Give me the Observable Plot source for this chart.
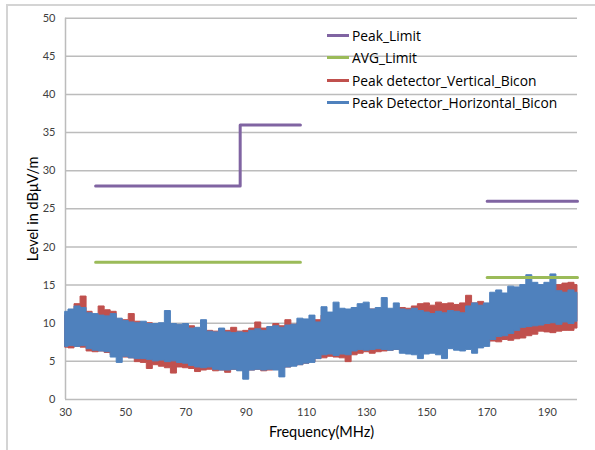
<!DOCTYPE html>
<html>
<head>
<meta charset="utf-8">
<script src="https://cdn.jsdelivr.net/npm/d3@7"></script>
<script src="https://cdn.jsdelivr.net/npm/@observablehq/plot@0.6"></script>
<style>
  html, body { margin: 0; padding: 0; background: #fff; }
  #wrap { position: relative; width: 595px; height: 450px; overflow: hidden; font-family: Lato, "Open Sans", sans-serif; }
  #frame { position: absolute; left: 6px; top: 4px; width: 700px; height: 600px; border-left: 2px solid #d4d4d4; border-top: 2px solid #d4d4d4; }
  #chart { position: absolute; left: 0; top: 0; }
  #legend { position: absolute; left: 327px; top: 24px; font-size: 13.8px; font-family: "Open Sans", sans-serif; color: #000; }
  .item { display: flex; align-items: center; height: 22.5px; white-space: nowrap; }
  .sw { width: 22px; height: 3px; margin-right: 3px; }
</style>
</head>
<body>
<div id="wrap">
  <div id="frame"></div>
  <div id="chart"></div>
  <div id="legend"></div>
</div>
<script>
// ---- data ----
const seriesNames = ["Peak_Limit", "AVG_Limit", "Peak detector_Vertical_Bicon", "Peak Detector_Horizontal_Bicon"];
const seriesColors = ["#8064a2", "#9bbb59", "#c0504d", "#4f81bd"];

// limit lines (null breaks the line)
const peakLimitFreq  = [40, 88, 88, 108, null, 170, 200];
const peakLimitLevel = [28, 28, 36, 36, null, 26, 26];
const avgLimitFreq   = [40, 108, null, 170, 200];
const avgLimitLevel  = [18, 18, null, 16, 16];

// measured noise envelopes, every 2 MHz from 30 to 200 MHz
const freq = [30,32,34,36,38,40,42,44,46,48,50,52,54,56,58,60,62,64,66,68,70,72,74,76,78,80,82,84,86,88,90,92,94,96,98,100,102,104,106,108,110,112,114,116,118,120,122,124,126,128,130,132,134,136,138,140,142,144,146,148,150,152,154,156,158,160,162,164,166,168,170,172,174,176,178,180,182,184,186,188,190,192,194,196,198,200];

const vertHigh = [11.0,11.5,12.5,13.5,11.5,11.0,12.2,11.7,11.5,10.5,10.4,11.2,10.2,9.8,10.0,9.6,9.8,9.9,9.8,9.7,9.5,9.6,9.2,9.0,9.0,8.9,9.2,9.0,9.4,8.9,9.0,9.3,10.1,9.3,9.4,9.9,9.6,10.4,9.8,10.0,10.3,10.0,10.4,11.0,11.3,11.4,11.5,11.6,11.8,11.9,11.9,11.8,11.8,11.9,11.7,11.8,12.0,11.9,12.2,12.5,12.6,12.3,12.7,12.5,12.6,12.4,12.6,13.6,12.6,12.8,12.5,12.6,13.0,13.2,13.5,13.7,14.0,14.2,14.5,14.6,14.8,14.9,15.0,15.2,15.3,15.0];
const vertLow  = [6.8,6.7,6.9,6.8,6.3,6.2,6.3,6.1,5.8,5.7,5.5,5.4,4.9,4.8,4.0,4.5,4.3,4.1,3.4,4.2,4.1,4.0,3.6,3.8,3.9,3.7,3.8,3.5,3.9,3.8,3.7,3.8,3.9,3.7,3.8,4.0,4.1,4.2,4.4,4.5,4.7,4.9,5.3,5.4,5.6,5.5,5.4,4.9,5.8,6.0,6.2,6.0,6.2,6.3,6.4,6.5,6.4,6.6,6.5,6.6,6.7,6.8,6.6,6.9,6.8,7.0,7.2,7.1,7.3,7.5,7.4,7.6,7.5,7.8,7.7,7.9,8.0,8.3,8.5,8.9,8.8,8.7,8.9,9.0,9.0,9.3];
const horizHigh = [11.5,11.8,12.2,12.0,11.3,11.2,11.0,10.9,11.2,10.6,10.3,10.1,10.0,10.2,9.9,9.9,10.0,11.6,9.9,9.8,9.9,9.3,9.4,10.4,8.9,8.8,9.3,8.8,8.7,8.8,8.7,9.0,9.2,9.0,9.5,9.6,9.4,9.7,9.8,10.6,10.5,11.0,10.1,12.1,11.4,12.7,11.9,11.8,12.0,12.5,12.7,11.8,12.0,13.3,11.9,12.6,11.8,11.7,11.9,11.6,11.4,11.2,11.5,11.3,11.6,11.5,11.3,12.2,12.6,12.3,12.6,14.0,14.3,13.9,14.8,14.7,15.0,16.3,15.3,15.0,15.3,16.4,14.2,14.0,14.3,14.0];
const horizLow  = [6.9,7.0,6.9,7.0,6.6,6.4,6.3,6.2,5.5,4.8,5.6,5.4,5.3,5.3,5.2,5.0,5.1,4.9,5.0,4.8,4.7,4.4,4.2,4.1,4.2,3.9,3.8,3.8,3.9,3.7,2.6,3.8,3.9,3.8,3.9,3.8,2.9,4.2,4.3,4.5,4.7,4.8,5.3,5.8,5.9,5.7,5.9,5.8,6.3,6.5,6.4,6.5,6.6,6.5,6.4,6.5,6.0,5.9,5.8,5.3,5.9,6.0,5.8,5.3,6.6,6.4,6.3,6.5,6.0,6.7,6.9,7.8,8.2,8.3,8.6,9.0,9.4,9.5,9.6,9.7,9.9,10.0,9.8,10.1,9.9,10.2];

const xTicks = [30, 50, 70, 90, 110, 130, 150, 170, 190];
const yTicks = [0, 5, 10, 15, 20, 25, 30, 35, 40, 45, 50];

// ---- tables for the library ----
const vert = freq.map((f, i) => ({f, lo: vertLow[i], hi: vertHigh[i]}));
const horiz = freq.map((f, i) => ({f, lo: horizLow[i], hi: horizHigh[i]}));
const peak = peakLimitFreq.map((f, i) => ({f, v: peakLimitLevel[i]}));
const avg = avgLimitFreq.map((f, i) => ({f, v: avgLimitLevel[i]}));

const font = "Lato, 'Open Sans', sans-serif";
const chart = Plot.plot({
  width: 595,
  height: 450,
  marginLeft: 65,
  marginRight: 18,
  marginTop: 17.7,
  marginBottom: 51,
  style: {fontFamily: font, fontSize: "11px", color: "#404040", background: "transparent"},
  x: {domain: [30, 200]},
  y: {domain: [0, 50]},
  marks: [
    Plot.ruleY(yTicks, {stroke: "#bcbcbc", strokeWidth: 1.5}),
    Plot.ruleX([30], {stroke: "#bcbcbc", strokeWidth: 1.5}),
    Plot.areaY(vert, {x: "f", y1: "lo", y2: "hi", fill: seriesColors[2], stroke: seriesColors[2], strokeWidth: 1, curve: "step"}),
    Plot.areaY(horiz, {x: "f", y1: "lo", y2: "hi", fill: seriesColors[3], stroke: seriesColors[3], strokeWidth: 1, curve: "step"}),
    Plot.line(peak, {x: "f", y: "v", stroke: seriesColors[0], strokeWidth: 3, defined: d => d.f != null}),
    Plot.line(avg, {x: "f", y: "v", stroke: seriesColors[1], strokeWidth: 3, defined: d => d.f != null}),
    Plot.axisX({ticks: xTicks, tickSize: 0, tickPadding: 9, fontSize: 11, label: "Frequency(MHz)", labelAnchor: "center", labelOffset: 37, labelArrow: "none"}),
    Plot.axisY({ticks: yTicks, tickSize: 0, tickPadding: 10, fontSize: 11, label: "Level in dBμV/m", labelAnchor: "center", labelOffset: 38, labelArrow: "none"})
  ]
});
chart.querySelectorAll("g[aria-label='x-axis label'] text, g[aria-label='y-axis label'] text").forEach(t => {
  t.style.fontSize = "14.5px";
  t.style.fill = "#000";
});
document.getElementById("chart").appendChild(chart);

const legend = document.getElementById("legend");
seriesNames.forEach((name, i) => {
  const row = document.createElement("div");
  row.className = "item";
  const sw = document.createElement("span");
  sw.className = "sw";
  sw.style.background = seriesColors[i];
  const tx = document.createElement("span");
  tx.textContent = name;
  row.appendChild(sw);
  row.appendChild(tx);
  legend.appendChild(row);
});
</script>
</body>
</html>
